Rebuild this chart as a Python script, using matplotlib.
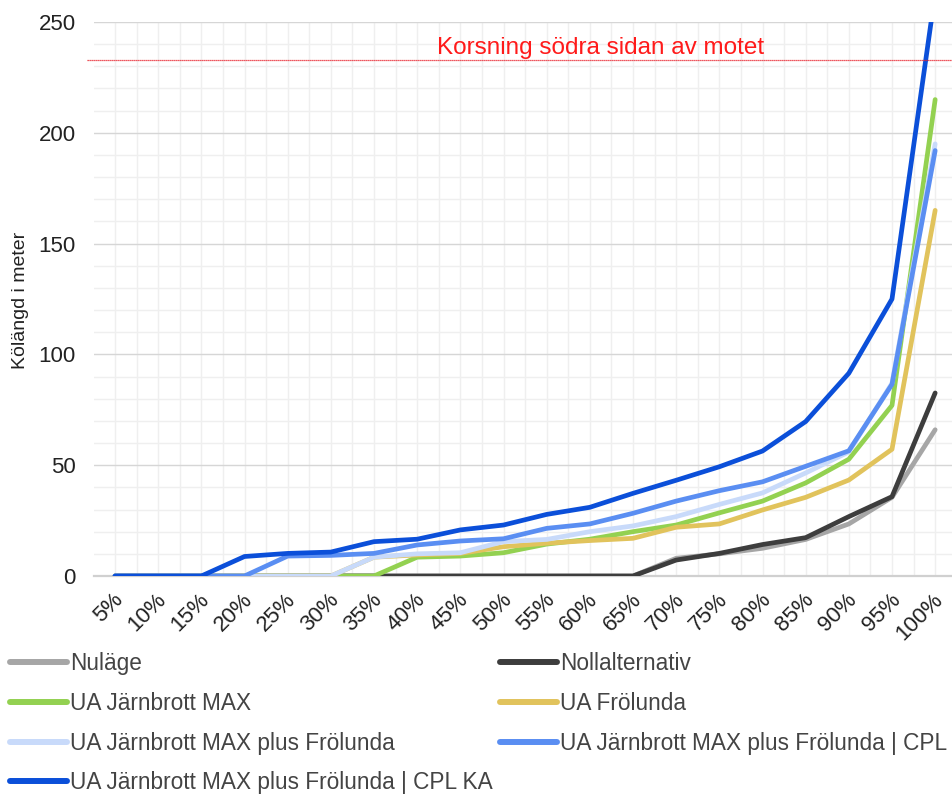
import matplotlib
matplotlib.use("Agg")
import matplotlib.pyplot as plt
from matplotlib.ticker import MultipleLocator, FixedLocator
import matplotlib.transforms as mtransforms

categories = ["5%", "10%", "15%", "20%", "25%", "30%", "35%", "40%", "45%", "50%",
              "55%", "60%", "65%", "70%", "75%", "80%", "85%", "90%", "95%", "100%"]

nulage = [0, 0, 0, 0, 0, 0, 0, 0, 0, 0, 0, 0, 0, 8, 10, 12.5, 16.5, 23.5, 35.5, 66]
nollalternativ = [0, 0, 0, 0, 0, 0, 0, 0, 0, 0, 0, 0, 0, 7.2, 10.2, 14.2, 17.3, 26.8, 35.8, 82.6]
jarnbrott_max = [0, 0, 0, 0, 0, 0, 0, 8.5, 9, 10.5, 14.4, 16.6, 20, 23, 28.5, 33.8, 42, 52.7, 77, 215]
frolunda = [0, 0, 0, 0, 0, 0, 8.5, 9.5, 10.2, 13.2, 14.8, 16, 17, 22, 23.5, 29.8, 35.5, 43.3, 57.2, 165]
jarnbrott_plus_frolunda = [0, 0, 0, 0, 0, 0, 8.5, 10, 10.5, 15.5, 16.5, 20, 22.6, 26.8, 32.3, 37.5, 46.5, 56, 87, 195]
plus_frolunda_cpl = [0, 0, 0, 0, 9, 9.3, 10.2, 14, 15.8, 16.8, 21.5, 23.5, 28.3, 33.8, 38.5, 42.5, 49.5, 56.5, 86.5, 192]
plus_frolunda_cpl_ka = [0, 0, 0, 8.8, 10.2, 10.8, 15.5, 16.6, 20.8, 23, 27.8, 31, 37.3, 43.2, 49.3, 56.4, 69.7, 91.5, 125, 263]

series_names = ["Nuläge", "Nollalternativ", "UA Järnbrott MAX", "UA Frölunda",
                "UA Järnbrott MAX plus Frölunda", "UA Järnbrott MAX plus Frölunda | CPL",
                "UA Järnbrott MAX plus Frölunda | CPL KA"]
series_values = [nulage, nollalternativ, jarnbrott_max, frolunda,
                 jarnbrott_plus_frolunda, plus_frolunda_cpl, plus_frolunda_cpl_ka]
series_colors = ["#a6a6a6", "#3d3d3d", "#93d151", "#e1c35c", "#c8dafa", "#5a8ef2", "#0b4fd9"]

threshold = 233
threshold_label = "Korsning södra sidan av motet"
y_label = "Kölängd i meter"

regular = ["Liberation Sans", "DejaVu Sans"]

fig = plt.figure(figsize=(9.52, 7.99), dpi=100)
ax = fig.add_axes([94 / 952, 1 - 576 / 799, 1 - 94 / 952, (576 - 22) / 799])

x = list(range(len(categories)))
handles = []
for name, vals, col in zip(series_names, series_values, series_colors):
    h, = ax.plot(x, vals, color=col, lw=3.4, label=name, solid_joinstyle="round",
                 solid_capstyle="round", zorder=3)
    handles.append(h)

ax.set_xlim(-0.487, 19.39)
ax.set_ylim(0, 250)

# grid
ax.yaxis.set_major_locator(MultipleLocator(50))
ax.yaxis.set_minor_locator(MultipleLocator(10))
ax.xaxis.set_major_locator(FixedLocator(x))
ax.xaxis.set_minor_locator(MultipleLocator(0.5))
ax.grid(which="minor", axis="both", color="#efefef", lw=1.0, zorder=0)
ax.grid(which="major", axis="y", color="#d6d6d6", lw=1.0, zorder=0)
ax.grid(which="major", axis="x", color="#efefef", lw=1.0, zorder=0)
ax.set_axisbelow(True)

for s in ["top", "right", "left"]:
    ax.spines[s].set_visible(False)
ax.spines["bottom"].set_color("#d0d0d0")
ax.spines["bottom"].set_linewidth(1.6)

ax.set_xticks(x)
ax.set_xticklabels(categories)
ax.tick_params(axis="both", which="both", length=0)
ax.tick_params(axis="y", pad=13, labelsize=16, labelcolor="#222222")
ax.tick_params(axis="x", pad=15, labelsize=16, labelcolor="#222222")
offset = mtransforms.ScaledTranslation(5 / 100, 0, fig.dpi_scale_trans)
for lbl in ax.get_xticklabels():
    lbl.set_rotation(45)
    lbl.set_ha("right")
    lbl.set_va("center")
    lbl.set_rotation_mode("anchor")
    lbl.set_family(regular)
    lbl.set_transform(lbl.get_transform() + offset)
for lbl in ax.get_yticklabels():
    lbl.set_family(regular)

# threshold
ax.axhline(threshold, xmin=-0.008, xmax=1, color="#e8202a", lw=0.9,
           linestyle=(0, (1, 0.6)), clip_on=False, zorder=4)
ax.text(11.24, threshold + 2.6, threshold_label, color="#ff1a1a", ha="center", va="baseline",
        fontsize=17.5, family=regular, zorder=5)

fig.text(21 / 952, 1 - 300 / 799, y_label, rotation=90, ha="center", va="center",
         fontsize=14, family=regular, color="#222222")

# legend (row-wise order in two columns)
col1 = [0, 2, 4, 6]
col2 = [1, 3, 5]
leg_kw = dict(frameon=False, borderpad=0, borderaxespad=0, handlelength=2.5,
              handletextpad=0.15, labelspacing=0.74,
              prop={"family": regular, "size": 16.3}, labelcolor="#444444",
              loc="upper left")
leg1 = fig.legend([handles[i] for i in col1], [series_names[i] for i in col1],
                  bbox_to_anchor=(10 / 952, 1 - 652 / 799), **leg_kw)
leg2 = fig.legend([handles[i] for i in col2], [series_names[i] for i in col2],
                  bbox_to_anchor=(500 / 952, 1 - 652 / 799), **leg_kw)
for leg in (leg1, leg2):
    for ln in leg.get_lines():
        ln.set_linewidth(4.3)
        ln.set_solid_capstyle("round")

fig.savefig("out.png", dpi=100)
